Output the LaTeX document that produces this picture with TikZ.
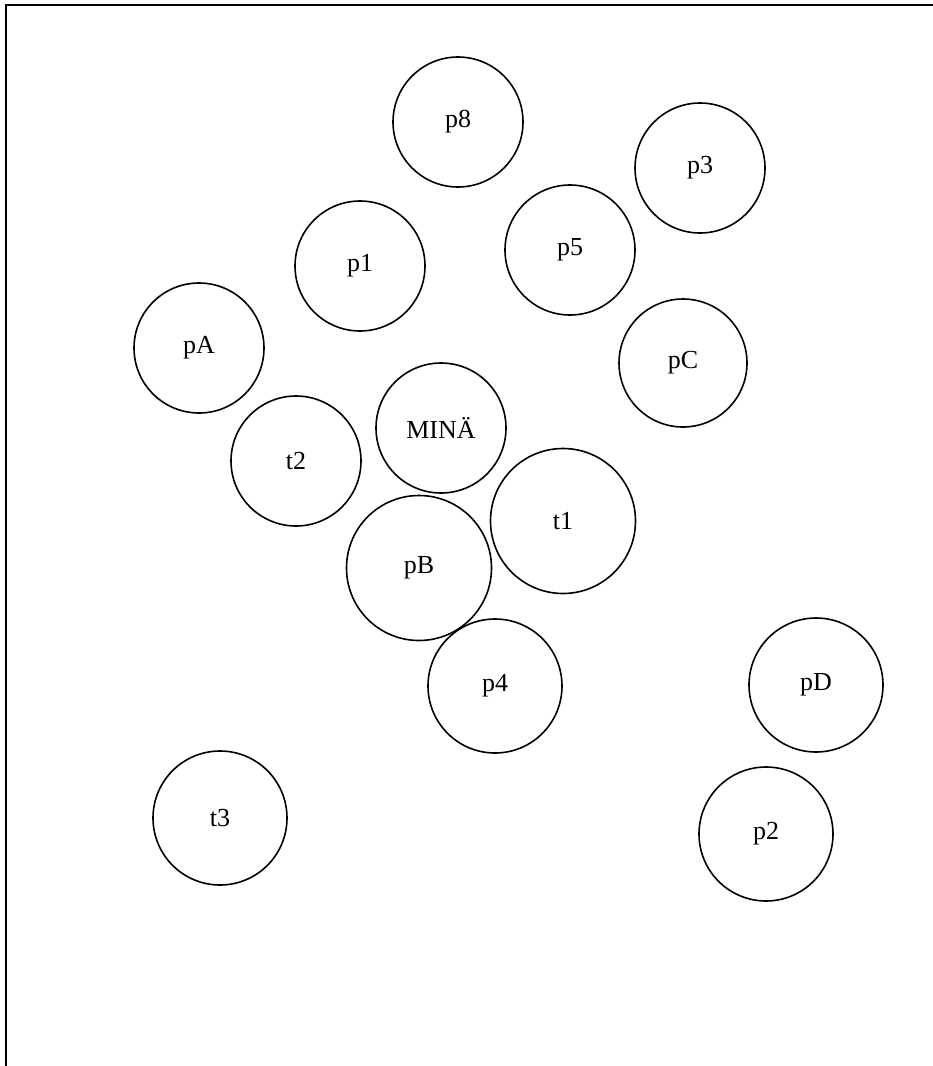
\documentclass[tikz,border=0pt]{standalone}
\usepackage{fontspec}
\setmainfont{Liberation Serif}

\begin{document}
\begin{tikzpicture}[
  x=1pt, y=-1pt,
  ball/.style={draw, circle, line width=1.6pt, inner sep=0pt, minimum size=130pt,
    font=\fontsize{26}{30}\selectfont},
  bigball/.style={ball, minimum size=145pt},
  midball/.style={ball, minimum size=134pt},
  frame/.style={line width=1.8pt}
]
  \useasboundingbox (0,0) rectangle (933,1066);
  \draw[frame] (6,1066) -- (6,5) -- (933,5);

  \node[ball] (p8) at (458,122) {p8};
  \node[ball] (p3) at (700,168) {p3};
  \node[ball] (p1) at (360,266) {p1};
  \node[ball] (p5) at (570,250) {p5};
  \node[ball] (pA) at (199,348) {pA};
  \node[ball, minimum size=128pt] (pC) at (683,363) {pC};
  \node[ball] (mina) at (441,428) {MINÄ};
  \node[ball] (t2) at (296,461) {t2};
  \node[bigball] (t1) at (563,521) {t1};
  \node[bigball] (pB) at (419,568) {pB};
  \node[midball] (p4) at (495,686) {p4};
  \node[midball] (pD) at (816,685) {pD};
  \node[midball] (t3) at (220,818) {t3};
  \node[midball] (p2) at (766,834) {p2};
\end{tikzpicture}
\end{document}
